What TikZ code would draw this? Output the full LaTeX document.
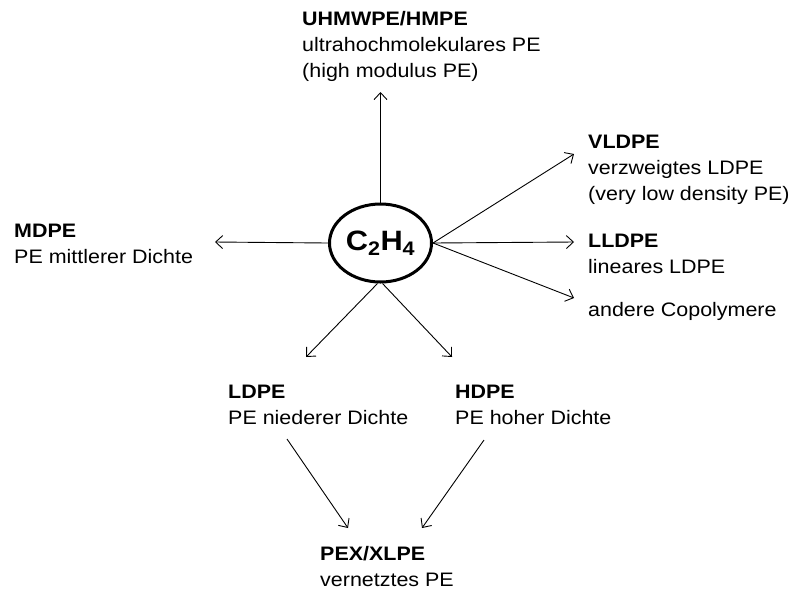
\documentclass[tikz,border=0pt]{standalone}
\usepackage{fontspec}
\setmainfont[FakeStretch=1.1]{Liberation Sans}
\usetikzlibrary{shapes.geometric,arrows.meta}
\begin{document}
\begin{tikzpicture}[x=1pt,y=-1pt,
  lbl/.style={anchor=base west, align=left, inner sep=0pt, font=\fontsize{19.5}{26}\selectfont},
  arr/.style={line width=0.9pt, -{Straight Barb[length=7pt,width=13pt,line width=0.9pt]}},
  core/.style={ellipse, draw, line width=3pt, minimum width=102pt, minimum height=78pt, inner sep=0pt,
    font=\fontsize{28}{30}\selectfont\bfseries}
  ]
\useasboundingbox (0,0) rectangle (794,590);
% centre
\node[core] (c) at (380.5,243) {C\textsubscript{2}H\textsubscript{4}};
% labels (anchored at the baseline of their last line)
\node[lbl] (uhm) at (302,77) {\textbf{UHMWPE/HMPE}\\ultrahochmolekulares PE\\(high modulus PE)};
\node[lbl] (vld) at (588,200) {\textbf{VLDPE}\\verzweigtes LDPE\\(very low density PE)};
\node[lbl] (lld) at (588,273) {\textbf{LLDPE}\\lineares LDPE};
\node[lbl] (and) at (588,316) {andere Copolymere};
\node[lbl] (mdp) at (14,263) {\textbf{MDPE}\\PE mittlerer Dichte};
\node[lbl] (ldp) at (228,424) {\textbf{LDPE}\\PE niederer Dichte};
\node[lbl] (hdp) at (455,424) {\textbf{HDPE}\\PE hoher Dichte};
\node[lbl] (pex) at (320,586) {\textbf{PEX/XLPE}\\vernetztes PE};
% arrow ends
\coordinate (tUp) at (380.5,92);
\coordinate (tMd) at (215,242);
\coordinate (tVl) at (574,154);
\coordinate (tLl) at (574,242);
\coordinate (tAn) at (574,298);
\coordinate (tLd) at (306,357);
\coordinate (tHd) at (452,357);
\coordinate (sLd) at (287,439);
\coordinate (sHd) at (484,440);
\coordinate (tPl) at (348,528);
\coordinate (tPh) at (422,528);
% arrows
\draw[arr] (c.north) -- (tUp);
\draw[arr] (c.west) -- (tMd);
\draw[arr] (c.east) -- (tVl);
\draw[arr] (c.east) -- (tLl);
\draw[arr] (c.east) -- (tAn);
\draw[arr] ([xshift=-3pt]c.south) -- (tLd);
\draw[arr] ([xshift=2pt]c.south) -- (tHd);
\draw[arr] (sLd) -- (tPl);
\draw[arr] (sHd) -- (tPh);
\end{tikzpicture}
\end{document}
